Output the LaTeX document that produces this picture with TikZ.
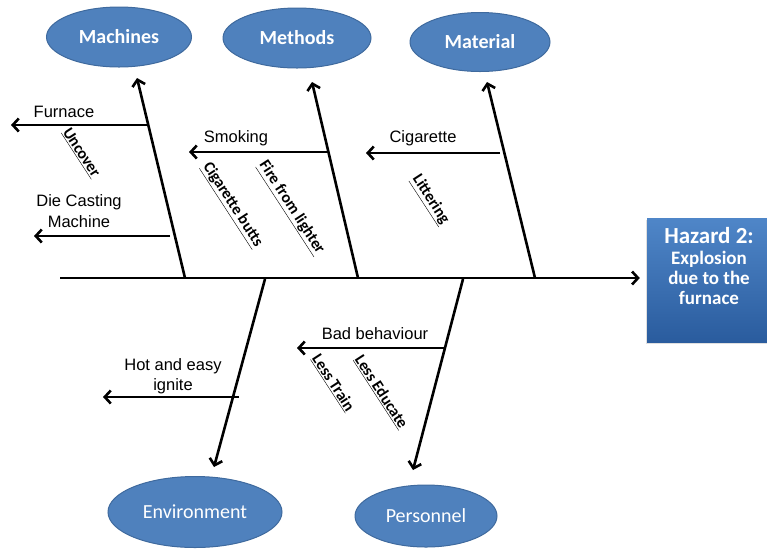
\documentclass[tikz,border=0pt]{standalone}
\usepackage{fontspec}
\setmainfont{Liberation Sans}
\newfontfamily\calfont{Carlito}
\usetikzlibrary{arrows.meta,shapes.geometric,shadows}
\definecolor{ellfill}{HTML}{4F81BD}
\definecolor{ellline}{HTML}{3F6A9E}
\definecolor{hztop}{HTML}{4F86C8}
\definecolor{hzbot}{HTML}{2A5C9E}
\begin{document}
\begin{tikzpicture}[x=1pt,y=-1pt,
  bone/.style={line width=2.6pt},
  arr/.style={line width=2.6pt,-{Straight Barb[length=6pt,width=13pt]}},
  cat/.style={ellipse,fill=ellfill,draw=ellline,line width=1pt,text=white,inner sep=0pt,font=\calfont\fontsize{20}{22}\selectfont},
  lbl/.style={font=\fontsize{16.5}{19}\selectfont,align=center,inner sep=0pt},
  rlbl/.style={font=\calfont\bfseries\fontsize{16}{18}\selectfont,rotate=-57,inner sep=0pt}]
\useasboundingbox (0,0) rectangle (767,550);

% category ellipses
\node[cat,minimum width=145pt,minimum height=60pt] (mach) at (119,37) {\bfseries Machines};
\node[cat,minimum width=148pt,minimum height=60pt] (meth) at (297,38) {\bfseries Methods};
\node[cat,minimum width=140pt,minimum height=59pt] (mat) at (480,42) {\bfseries Material};
\node[cat,minimum width=174pt,minimum height=71pt] (env) at (195,512) {Environment};
\node[cat,minimum width=142pt,minimum height=62pt] (pers) at (426,516) {Personnel};

% hazard box
\node[draw=none,top color=hztop,bottom color=hzbot,minimum width=121pt,minimum height=124pt,inner sep=0pt,
  drop shadow={opacity=0.25,shadow xshift=-1pt,shadow yshift=-2pt}] (hz) at (707.5,280) {};
\node[font=\calfont\bfseries\fontsize{19}{20}\selectfont,text=white,align=center,inner sep=0pt] (hzt) at (709,266)
  {{\fontsize{23}{24}\selectfont Hazard 2:}\\[1pt]
   Explosion\\
   due to the\\
   furnace};

% spine
\coordinate (m0) at (60,278);
\draw[arr,shorten >=7pt] (m0) -- (m0 -| hz.west);

% bones
\coordinate (b1) at (185,278); \coordinate (t1) at (137,78);
\coordinate (b2) at (358,278); \coordinate (t2) at (312,82);
\coordinate (b3) at (535,278); \coordinate (t3) at (487,82);
\coordinate (b4) at (265,279); \coordinate (t4) at (214,467);
\coordinate (b5) at (463,279); \coordinate (t5) at (413,470);
\draw[arr] (b1) -- (t1);
\draw[arr] (b2) -- (t2);
\draw[arr] (b3) -- (t3);
\draw[arr] (b4) -- (t4);
\draw[arr] (b5) -- (t5);

% sub-cause arrows
\coordinate (s1) at (148,125); \coordinate (e1) at (11,125);
\coordinate (s2) at (170,236); \coordinate (e2) at (34,236);
\coordinate (s3) at (328,152); \coordinate (e3) at (189,152);
\coordinate (s4) at (500,153); \coordinate (e4) at (366,153);
\coordinate (s5) at (445,348); \coordinate (e5) at (297,348);
\coordinate (s6) at (239,397); \coordinate (e6) at (103,397);
\draw[arr] (s1) -- (e1);
\draw[arr] (s2) -- (e2);
\draw[arr] (s3) -- (e3);
\draw[arr] (s4) -- (e4);
\draw[arr] (s5) -- (e5);
\draw[arr] (s6) -- (e6);

% labels
\node[lbl] (l1) at (64,112) {Furnace};
\node[lbl] (l2) at (79,211) {Die Casting\\[2pt]Machine};
\node[lbl] (l3) at (236,138) {Smoking};
\node[lbl] (l4) at (423,138) {Cigarette};
\node[lbl] (l5) at (375,334) {Bad behaviour};
\node[lbl] (l6) at (173,376) {Hot and easy\\[1pt]ignite};

% rotated underlined labels
\node[rlbl] (r1) at (81,153) {\underline{Uncover}};
\node[rlbl] (r2) at (232,205) {\underline{Cigarette butts}};
\node[rlbl] (r3) at (291,208) {\underline{Fire from lighter}};
\node[rlbl] (r4) at (430,200) {\underline{Littering}};
\node[rlbl] (r5) at (333,383) {\underline{Less Train}};
\node[rlbl] (r6) at (381,392) {\underline{Less Educate}};
\end{tikzpicture}
\end{document}
